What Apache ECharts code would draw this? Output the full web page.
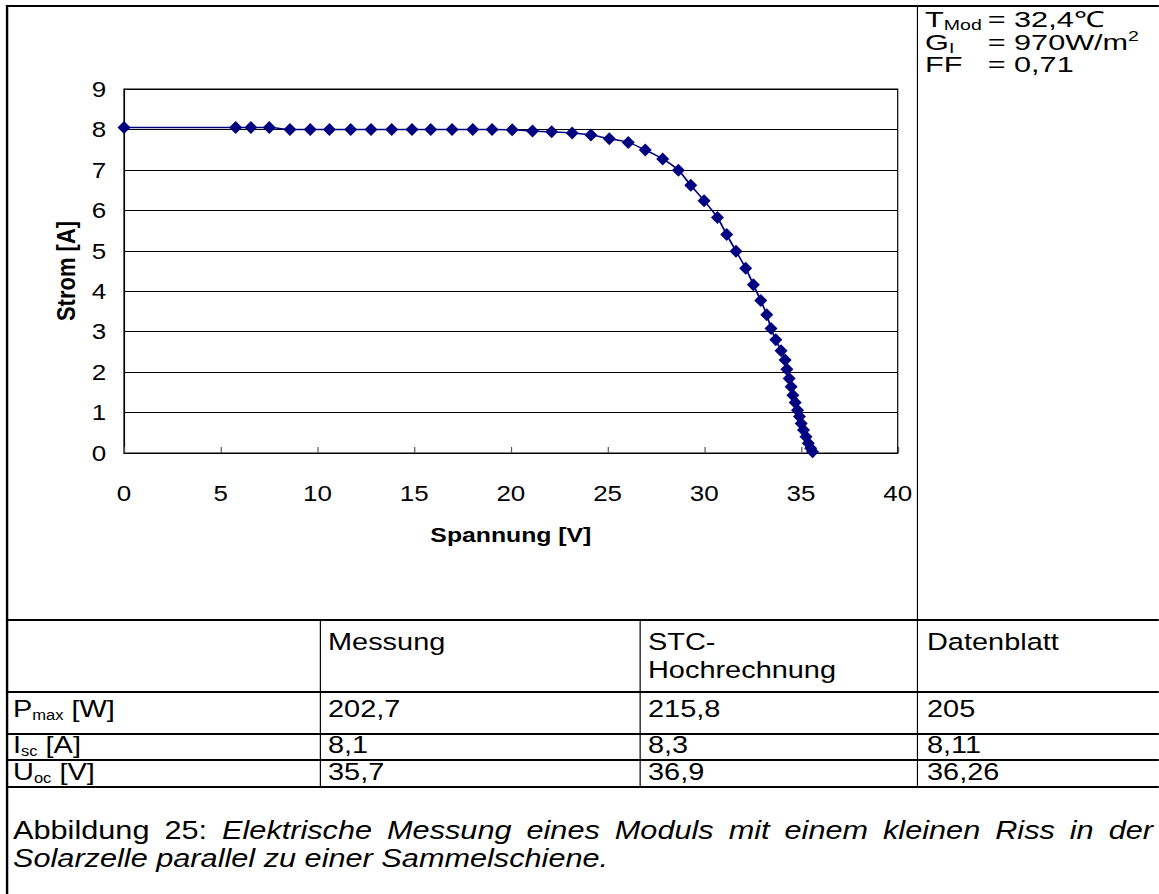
<!DOCTYPE html>
<html>
<head>
<meta charset="utf-8">
<script src="https://cdn.jsdelivr.net/npm/echarts/dist/echarts.min.js"></script>
<style>
html,body{margin:0;padding:0;background:#fff;overflow:hidden;width:1159px;height:894px;}
#page{position:absolute;left:0;top:0;width:982px;height:894px;transform:scaleX(1.18);transform-origin:0 0;font-family:"Liberation Sans",Arial,sans-serif;color:#000;}
#chart{position:absolute;left:0;top:0;width:982px;height:894px;}
.t{position:absolute;font-size:23px;line-height:24px;white-space:nowrap;}
.tb{font-size:24.5px;}
.info{font-size:22px;line-height:20px;transform:scaleX(1.18);transform-origin:0 50%;}
.ln{position:absolute;background:#000;}
.sub{font-size:14px;line-height:0;vertical-align:-3px;}
.sup{font-size:14px;line-height:0;vertical-align:9px;}
.cap{position:absolute;font-size:26px;line-height:28px;white-space:nowrap;}
</style>
</head>
<body>
<div id="page">
  <div id="chart"></div>
  <div id="overlay"></div>
</div>
<script>
// ---- data ----
const voltage = [0, 5.77, 6.56, 7.51, 8.58, 9.63, 10.62, 11.72, 12.77, 13.84, 14.89, 15.86, 16.96, 18.03, 19.03, 20.07, 21.12, 22.11, 23.17, 24.14, 25.09, 26.07, 26.95, 27.85, 28.66, 29.30, 29.99, 30.68, 31.16, 31.64, 32.14, 32.54, 32.92, 33.23, 33.45, 33.70, 33.97, 34.18, 34.27, 34.39, 34.49, 34.58, 34.70, 34.82, 34.92, 35.01, 35.13, 35.26, 35.38, 35.50, 35.60];
const current = [8.05, 8.05, 8.05, 8.05, 8.0, 8.0, 8.0, 8.0, 8.0, 8.0, 8.0, 8.0, 8.0, 8.0, 8.0, 7.99, 7.96, 7.94, 7.91, 7.86, 7.77, 7.68, 7.49, 7.27, 6.99, 6.62, 6.24, 5.82, 5.40, 4.99, 4.57, 4.16, 3.77, 3.42, 3.08, 2.80, 2.53, 2.30, 2.07, 1.84, 1.64, 1.43, 1.25, 1.06, 0.90, 0.73, 0.57, 0.40, 0.24, 0.12, 0.03];
const xAxisName = 'Spannung [V]';
const yAxisName = 'Strom [A]';
const infoLabels = ['T<span class="sub">Mod</span>', 'G<span class="sub">I</span>', 'FF'];
const infoValues = ['= 32,4℃', '= 970W/m<span class="sup">2</span>', '= 0,71'];
const colHeaders = ['Messung', 'STC-<br>Hochrechnung', 'Datenblatt'];
const rowLabels = ['P<span class="sub">max</span> [W]', 'I<span class="sub">sc</span> [A]', 'U<span class="sub">oc</span> [V]'];
const messung = ['202,7', '8,1', '35,7'];
const stc = ['215,8', '8,3', '36,9'];
const datenblatt = ['205', '8,11', '36,26'];
const captionLead = 'Abbildung 25: ';
const captionLine1 = 'Elektrische Messung eines Moduls mit einem kleinen Riss in der';
const captionLine2 = 'Solarzelle parallel zu einer Sammelschiene.';

// ---- layout helpers (x in reference pixels, page scaled by 1.18) ----
const S = 1.18;
const ov = document.getElementById('overlay');
function hline(x1, x2, y, w) { const d = document.createElement('div'); d.className = 'ln'; d.style.left = (x1 / S) + 'px'; d.style.width = ((x2 - x1) / S) + 'px'; d.style.top = y + 'px'; d.style.height = w + 'px'; ov.appendChild(d); }
function vline(x, y1, y2, w) { const d = document.createElement('div'); d.className = 'ln'; d.style.left = (x / S) + 'px'; d.style.width = (w / S) + 'px'; d.style.top = y1 + 'px'; d.style.height = (y2 - y1) + 'px'; ov.appendChild(d); }
function text(html, x, cy, cls, lh, off) { const d = document.createElement('div'); d.className = 't ' + (cls || ''); d.innerHTML = html; d.style.left = (x / S) + 'px'; d.style.top = (cy - (off || 12)) + 'px'; if (lh) d.style.lineHeight = lh + 'px'; ov.appendChild(d); }

// borders
hline(6, 1159, 5, 2);
vline(6, 5, 894, 2);
vline(917, 5, 787, 1);
hline(6, 1159, 619, 2);
hline(6, 1159, 691, 1.5);
hline(6, 1159, 733, 1.5);
hline(6, 1159, 759, 1.5);
hline(6, 1159, 786, 1.5);
vline(320, 619, 787, 1.2);
vline(639, 619, 787, 1.2);

// info text
const infoY = [20, 42.5, 64.5];
infoLabels.forEach((l, i) => { text(l, 925, infoY[i], 'info', null, 10); text(infoValues[i], 988, infoY[i], 'info', null, 10); });

// table
const colX = [328, 648, 927];
colHeaders.forEach((h, i) => text(h, colX[i], 640, 'tb', 28));
const rowY = [709, 745, 772];
rowLabels.forEach((l, i) => {
  text(l, 13, rowY[i], 'tb');
  text(messung[i], colX[0], rowY[i], 'tb');
  text(stc[i], colX[1], rowY[i], 'tb');
  text(datenblatt[i], colX[2], rowY[i], 'tb');
});

// caption
const c1 = document.createElement('div');
c1.className = 'cap';
c1.style.left = (13 / S) + 'px'; c1.style.top = '816px'; c1.style.width = ((1153 - 13) / S) + 'px';
c1.style.textAlign = 'justify'; c1.style.textAlignLast = 'justify'; c1.style.whiteSpace = 'normal';
c1.innerHTML = captionLead + '<i>' + captionLine1 + '</i>';
ov.appendChild(c1);
const c2 = document.createElement('div');
c2.className = 'cap';
c2.style.left = (13 / S) + 'px'; c2.style.top = '844px';
c2.innerHTML = '<i>' + captionLine2 + '</i>';
ov.appendChild(c2);

// ---- chart ----
const chart = echarts.init(document.getElementById('chart'), null, { renderer: 'svg' });
const W = 982;
const gl = 124 / S, gr = 897.7 / S;
chart.setOption({
  animation: false,
  grid: { left: gl, right: W - gr, top: 89, bottom: 894 - 453, show: true, borderColor: '#000', borderWidth: 1, backgroundColor: 'transparent' },
  xAxis: {
    type: 'value', min: 0, max: 40, interval: 5,
    name: xAxisName, nameLocation: 'middle', nameGap: 71,
    nameTextStyle: { fontFamily: 'Liberation Sans', fontSize: 21, fontWeight: 'bold', color: '#000' },
    axisLine: { show: true, lineStyle: { color: '#000', width: 1 } },
    axisTick: { show: true, inside: true, length: 6, lineStyle: { color: '#555' } },
    axisLabel: { fontFamily: 'Liberation Sans', fontSize: 22, color: '#000', margin: 29 },
    splitLine: { show: false }
  },
  yAxis: {
    type: 'value', min: 0, max: 9, interval: 1,
    name: yAxisName, nameLocation: 'middle', nameGap: 38, nameRotate: 90,
    nameTextStyle: { fontFamily: 'Liberation Sans', fontSize: 22, fontWeight: 'bold', color: '#000' },
    axisLine: { show: true, lineStyle: { color: '#000', width: 1 } },
    axisTick: { show: false },
    axisLabel: { fontFamily: 'Liberation Sans', fontSize: 22, color: '#000', margin: 15 },
    splitLine: { show: true, lineStyle: { color: '#000', width: 1.2 } }
  },
  series: [{
    type: 'line',
    data: voltage.map((v, i) => [v, current[i]]),
    smooth: 0.3,
    symbol: 'diamond',
    symbolSize: [11, 13],
    itemStyle: { color: '#000080' },
    lineStyle: { color: '#000080', width: 1.5 },
    z: 5
  }]
});
</script>
</body>
</html>
